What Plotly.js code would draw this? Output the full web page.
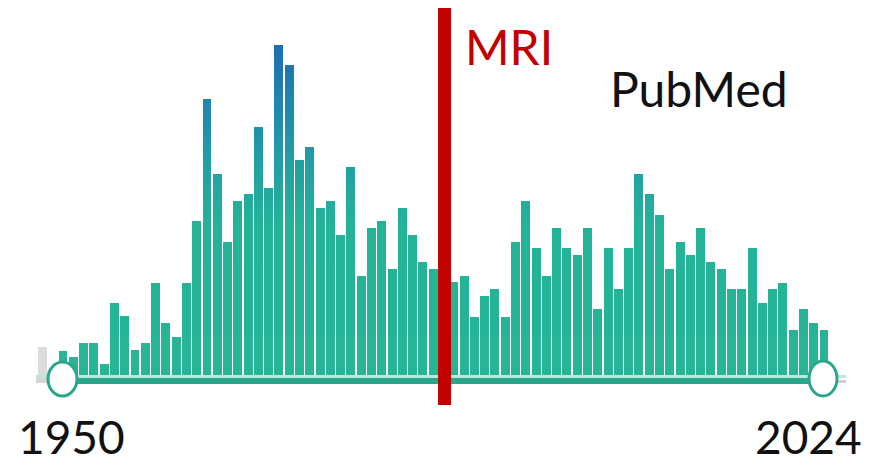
<!DOCTYPE html>
<html>
<head>
<meta charset="utf-8">
<script src="https://cdn.plot.ly/plotly-3.0.1.min.js"></script>
<style>
  html, body { margin: 0; padding: 0; background: #ffffff; }
  #chart { width: 887px; height: 466px; }
</style>
</head>
<body>
<div id="chart"></div>
<script>
// ---- data (heights in relative units) ----
const years = [1950,1951,1952,1953,1954,1955,1956,1957,1958,1959,
               1960,1961,1962,1963,1964,1965,1966,1967,1968,1969,
               1970,1971,1972,1973,1974,1975,1976,1977,1978,1979,
               1980,1981,1982,1983,1984,1985,1986,1987,1988,1989,
               1990,1991,1992,1993,1994,1995,1996,1997,1998,1999,
               2000,2001,2002,2003,2004,2005,2006,2007,2008,2009,
               2010,2011,2012,2013,2014,2015,2016,2017,2018,2019,
               2020,2021,2022,2023,2024];
const counts = [25,19,33,33,12,73,60,26,33,93,
                53,39,93,155,277,202,134,175,182,249,
                188,331,311,216,229,168,175,141,209,100,
                148,155,107,168,141,114,107,105,94,100,
                59,80,87,59,134,175,128,100,148,128,
                121,148,67,128,87,128,202,182,161,107,
                134,121,148,114,107,87,87,128,73,87,
                93,46,67,53,46];
const outsideYears = [1948];
const outsideCounts = [29];
const mriYear = 1987.1;
const labels = { marker: "MRI", source: "PubMed", start: "1950", end: "2024" };

// ---- pixel helpers (layout only) ----
const W = 887, H = 466;
const X_LEFT = 1943.874, X_RIGHT = 2030.124;      // year range across full width
const BASE_PX = 376;                               // baseline pixel row
const pxToYear = px => X_LEFT + px * (X_RIGHT - X_LEFT) / W;
const pxToY = py => BASE_PX - py;                  // y units = pixels above baseline
const px2paperX = px => px / W;
const px2paperY = py => (H - py) / H;

// ---- vertical gradient: stack bars in height bands ----
const stops = [[0,[39,181,149]],[150,[37,179,152]],[210,[34,160,162]],[270,[33,135,173]],[340,[27,106,180]]];
function colorAt(h) {
  for (let k = 1; k < stops.length; k++) {
    if (h <= stops[k][0]) {
      const [h0,c0] = stops[k-1], [h1,c1] = stops[k];
      const t = (h - h0) / (h1 - h0);
      const c = c0.map((v,j) => Math.round(v + (c1[j]-v)*t));
      return `rgb(${c[0]},${c[1]},${c[2]})`;
    }
  }
  const c = stops[stops.length-1][1];
  return `rgb(${c[0]},${c[1]},${c[2]})`;
}
const band = 8;
const maxCount = Math.max(...counts);
const traces = [];
for (let b = 0; b * band < maxCount; b++) {
  const lo = b * band;
  traces.push({
    type: 'bar',
    x: years,
    y: counts.map(v => Math.max(0, Math.min(band, v - lo))),
    marker: { color: colorAt(lo + band/2), line: { width: 0 } },
    hoverinfo: 'skip',
    showlegend: false
  });
}
traces.push({
  type: 'bar', x: outsideYears, y: outsideCounts,
  marker: { color: '#dcdcdc', line: { width: 0 } },
  hoverinfo: 'skip', showlegend: false
});

const teal = '#2aa78a';
const shapes = [
  // light strip above the track
  { type: 'rect', xref: 'x', yref: 'y', layer: 'above',
    x0: pxToYear(36), x1: pxToYear(846), y0: pxToY(378), y1: pxToY(375),
    fillcolor: '#b9ebdc', line: { width: 0 } },
  // grey track parts
  { type: 'rect', xref: 'x', yref: 'y', layer: 'above',
    x0: pxToYear(36), x1: pxToYear(50), y0: pxToY(383), y1: pxToY(377),
    fillcolor: '#d6d6d6', line: { width: 0 } },
  { type: 'rect', xref: 'x', yref: 'y', layer: 'above',
    x0: pxToYear(834), x1: pxToYear(846), y0: pxToY(383), y1: pxToY(380),
    fillcolor: '#d0d0d0', line: { width: 0 } },
  // teal track
  { type: 'rect', xref: 'x', yref: 'y', layer: 'above',
    x0: pxToYear(60), x1: pxToYear(825), y0: pxToY(384), y1: pxToY(378),
    fillcolor: teal, line: { width: 0 } },
  // slider handles
  { type: 'circle', xref: 'x', yref: 'y', layer: 'above',
    x0: pxToYear(48), x1: pxToYear(77), y0: pxToY(396), y1: pxToY(362),
    fillcolor: '#ffffff', line: { color: teal, width: 3 } },
  { type: 'circle', xref: 'x', yref: 'y', layer: 'above',
    x0: pxToYear(809), x1: pxToYear(837), y0: pxToY(396), y1: pxToY(361),
    fillcolor: '#ffffff', line: { color: teal, width: 3 } },
  // MRI marker line
  { type: 'line', xref: 'x', yref: 'y', layer: 'above',
    x0: mriYear, x1: mriYear, y0: pxToY(405), y1: pxToY(8),
    line: { color: '#c20000', width: 13 } }
];

const fontFam = 'Lato, "Open Sans", "Noto Sans", sans-serif';
const annotations = [
  { text: labels.marker, xref: 'paper', yref: 'paper', x: px2paperX(463), y: px2paperY(46),
    xanchor: 'left', yanchor: 'middle', showarrow: false,
    font: { family: fontFam, size: 48, color: '#c20000' } },
  { text: labels.source, xref: 'paper', yref: 'paper', x: px2paperX(608), y: px2paperY(89),
    xanchor: 'left', yanchor: 'middle', showarrow: false,
    font: { family: fontFam, size: 48, color: '#111111' } },
  { text: labels.start, xref: 'paper', yref: 'paper', x: px2paperX(16), y: 0,
    xanchor: 'left', yanchor: 'bottom', showarrow: false,
    font: { family: fontFam, size: 46, color: '#111111' } },
  { text: labels.end, xref: 'paper', yref: 'paper', x: px2paperX(753), y: 0,
    xanchor: 'left', yanchor: 'bottom', showarrow: false,
    font: { family: fontFam, size: 46, color: '#111111' } }
];

const layout = {
  width: W, height: H,
  margin: { l: 0, r: 0, t: 0, b: 0, pad: 0 },
  paper_bgcolor: '#ffffff', plot_bgcolor: '#ffffff',
  barmode: 'stack', bargap: 0.13,
  xaxis: { range: [X_LEFT, X_RIGHT], visible: false, fixedrange: true },
  yaxis: { range: [pxToY(H), pxToY(0)], visible: false, fixedrange: true },
  shapes: shapes,
  annotations: annotations,
  showlegend: false
};

Plotly.newPlot('chart', traces, layout, { staticPlot: true, displayModeBar: false });
</script>
</body>
</html>
